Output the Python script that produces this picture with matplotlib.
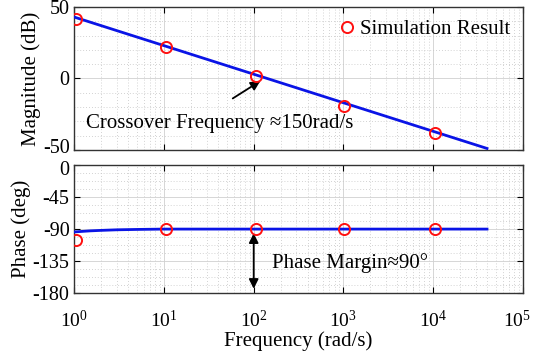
import matplotlib
matplotlib.use("Agg")
import matplotlib.pyplot as plt
from matplotlib.ticker import MultipleLocator
import matplotlib.transforms as mtrans
import numpy as np

# ---- data ----
mag_line_w = [1.0, 4.0e4]
mag_line_db = [43.0, -49.0]
phase_line_w = [1.0, 1.5, 2.0, 3.0, 5.0, 10.0, 100.0, 4.0e4]
phase_line_deg = [-94.0, -92.5, -91.8, -91.0, -90.5, -90.0, -90.0, -90.0]

sim_w = [1.05, 10.6, 105.0, 1020.0, 10500.0]
sim_mag = [42.0, 22.0, 2.0, -19.0, -38.0]
sim_phase = [-105.0, -90.0, -90.0, -90.0, -90.0]

mag_ticks = [-50, 0, 50]
phase_ticks = [-180, -135, -90, -45, 0]
x_ticks = [1, 10, 100, 1000, 10000, 100000]
x_ticklabels = ['10$^{0}$', '10$^{1}$', '10$^{2}$', '10$^{3}$', '10$^{4}$', '10$^{5}$']

plt.rcParams['font.family'] = ['Liberation Serif', 'DejaVu Serif']
plt.rcParams['mathtext.fontset'] = 'custom'
plt.rcParams['mathtext.rm'] = 'Liberation Serif'
plt.rcParams['mathtext.it'] = 'Liberation Serif:italic'
plt.rcParams['axes.unicode_minus'] = False

FS = 15
TFS = 14.5
fig = plt.figure(figsize=(5.35, 3.56), dpi=100)
ax1 = fig.add_axes([0.139, 0.579, 0.838, 0.401])
ax2 = fig.add_axes([0.139, 0.177, 0.838, 0.359])

def style(ax):
    ax.set_xscale('log')
    ax.set_xlim(1, 1e5)
    ax.grid(True, which='major', color='#d0d0d0', linestyle='-', linewidth=0.6)
    ax.grid(True, which='minor', color='#c4c4c4', linestyle=(0, (1, 2.5)), linewidth=0.6)
    ax.tick_params(which='both', direction='in', top=True, right=True, labelsize=TFS)
    ax.tick_params(which='major', length=4, width=0.8)
    ax.tick_params(which='minor', length=0)
    for s in ax.spines.values():
        s.set_linewidth(1.0)
        s.set_color('#333333')
    ax.set_axisbelow(True)

style(ax1)
style(ax2)

ax1.plot(mag_line_w, mag_line_db, color='#0a14e6', linewidth=2.0, zorder=3)
ax1.plot(sim_w, sim_mag, linestyle='none', marker='o', markersize=8,
         markerfacecolor='none', markeredgecolor='#ff1010', markeredgewidth=1.4,
         label='Simulation Result', zorder=4)
ax1.set_ylim(-50, 50)
ax1.set_yticks(mag_ticks)
ax1.set_yticklabels([str(t) for t in mag_ticks])
ax1.yaxis.set_minor_locator(MultipleLocator(10))
ax1.set_xticks(x_ticks)
ax1.set_xticklabels([])
ax1.set_ylabel('Magnitude (dB)', fontsize=FS, labelpad=1)
ax1.legend(loc='upper right', frameon=False, fontsize=FS, handletextpad=0.1,
           borderaxespad=0.2, handlelength=1.0)
ax1.annotate('', xy=(126, -0.7), xytext=(55, -15),
             arrowprops=dict(arrowstyle='-|>', color='black', lw=1.3,
                             mutation_scale=14))
ax1.text(1.36, -31.5, 'Crossover Frequency \u2248150rad/s', fontsize=FS,
         va='center', ha='left')

ax2.plot(phase_line_w, phase_line_deg, color='#0a14e6', linewidth=2.0, zorder=3)
ax2.plot(sim_w, sim_phase, linestyle='none', marker='o', markersize=8,
         markerfacecolor='none', markeredgecolor='#ff1010', markeredgewidth=1.4,
         zorder=4)
ax2.set_ylim(-180, 0)
ax2.set_yticks(phase_ticks)
ax2.set_yticklabels([str(t) for t in phase_ticks])
ax2.yaxis.set_minor_locator(MultipleLocator(11.25))
ax2.set_xticks(x_ticks)
ax2.set_xticklabels(x_ticklabels)
ax2.tick_params(axis='x', pad=12, labelsize=14)
ax2.set_ylabel('Phase (deg)', fontsize=FS, labelpad=1)
ax2.set_xlabel('Frequency (rad/s)', fontsize=FS, labelpad=0)
ax2.annotate('', xy=(100, -92), xytext=(100, -178),
             arrowprops=dict(arrowstyle='<|-|>', color='black', lw=1.3,
                             mutation_scale=14))
ax2.text(160, -138, 'Phase Margin\u224890\u00b0', fontsize=FS,
         va='center', ha='left')

# nudge the two touching tick labels apart slightly
up = mtrans.ScaledTranslation(0, 3 / 72, fig.dpi_scale_trans)
down = mtrans.ScaledTranslation(0, -2 / 72, fig.dpi_scale_trans)
left = mtrans.ScaledTranslation(-4 / 72, 0, fig.dpi_scale_trans)
lab = ax1.get_yticklabels()[0]
lab.set_transform(lab.get_transform() + up)
lab = ax2.get_yticklabels()[-1]
lab.set_transform(lab.get_transform() + down)
lab = ax2.get_xticklabels()[-1]
lab.set_transform(lab.get_transform() + left)

fig.savefig('out.png', dpi=100)
